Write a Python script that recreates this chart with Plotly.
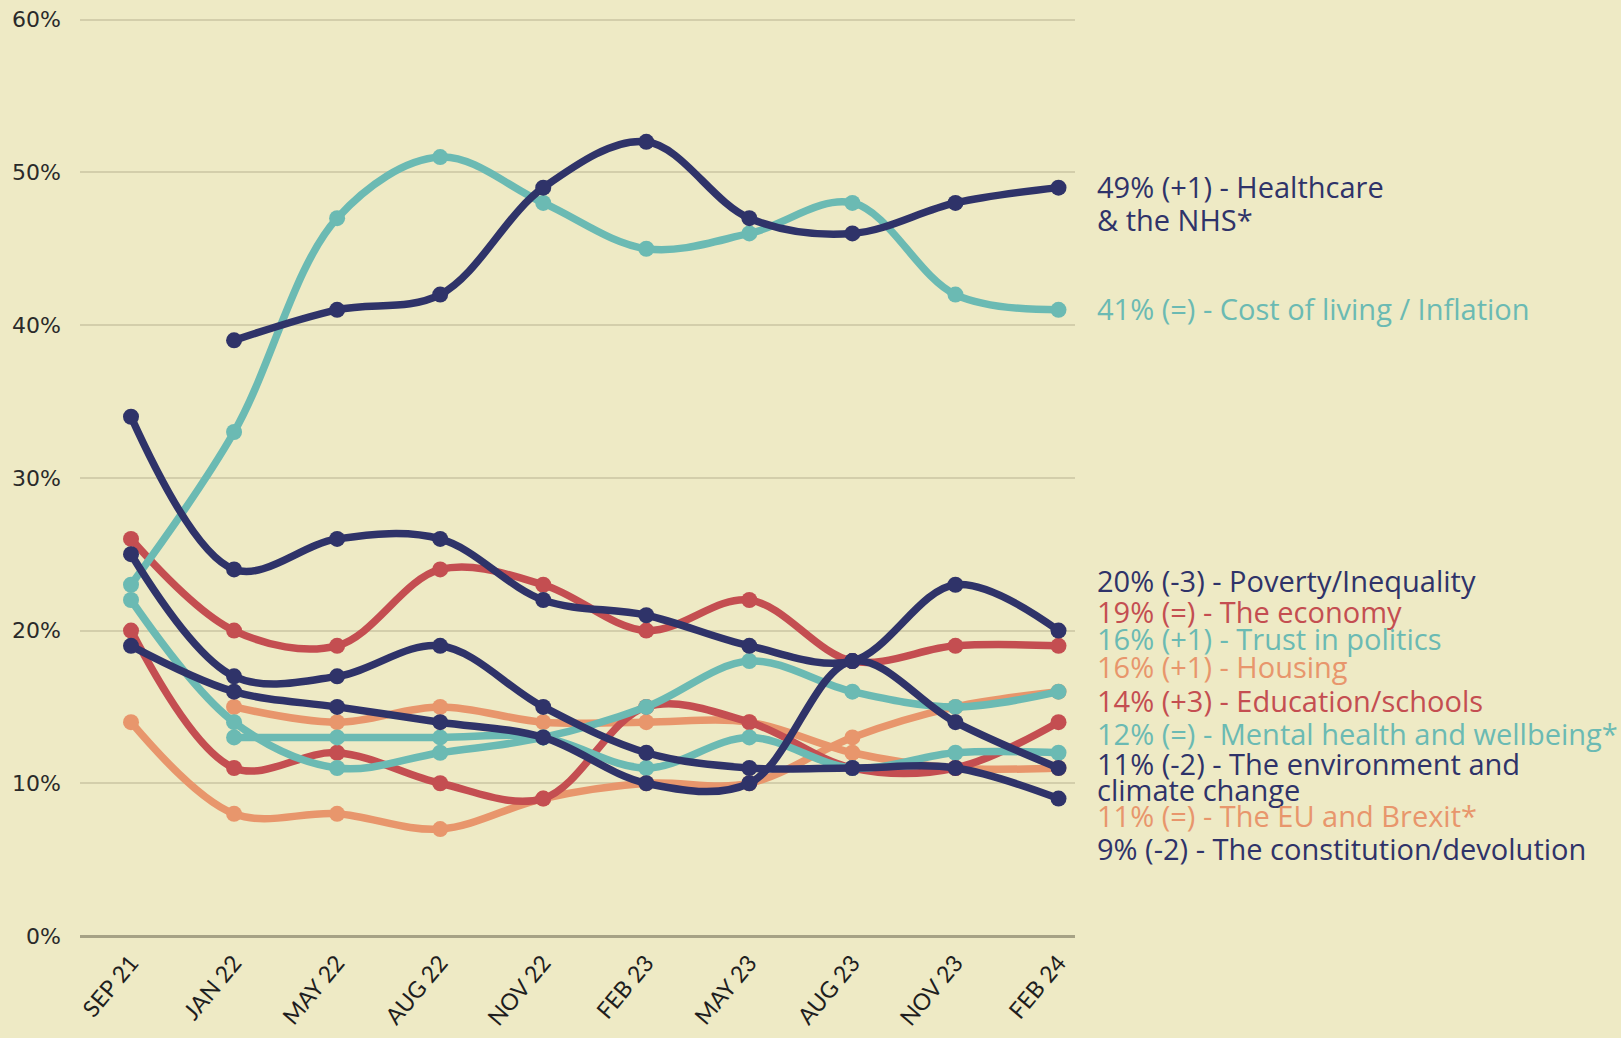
import plotly.graph_objects as go

# ---------------- data ----------------
periods = ["SEP 21", "JAN 22", "MAY 22", "AUG 22", "NOV 22",
           "FEB 23", "MAY 23", "AUG 23", "NOV 23", "FEB 24"]

healthcare   = [None, 39, 41, 42, 49, 52, 47, 46, 48, 49]
cost_living  = [23, 33, 47, 51, 48, 45, 46, 48, 42, 41]
poverty      = [34, 24, 26, 26, 22, 21, 19, 18, 23, 20]
economy      = [26, 20, 19, 24, 23, 20, 22, 18, 19, 19]
trust        = [22, 14, 11, 12, 13, 15, 18, 16, 15, 16]
housing      = [14, 8, 8, 7, 9, 10, 10, 13, 15, 16]
education    = [20, 11, 12, 10, 9, 15, 14, 11, 11, 14]
mental       = [None, 13, 13, 13, 13, 11, 13, 11, 12, 12]
environment  = [19, 16, 15, 14, 13, 10, 10, 18, 14, 11]
eu_brexit    = [None, 15, 14, 15, 14, 14, 14, 12, 11, 11]
constitution = [25, 17, 17, 19, 15, 12, 11, 11, 11, 9]

y_ticks = [0, 10, 20, 30, 40, 50, 60]
y_tick_labels = ["0%", "10%", "20%", "30%", "40%", "50%", "60%"]

# label texts (one entry per text line) and their vertical placement (data units)
label_lines = [
    "49% (+1) - Healthcare",
    "& the NHS*",
    "41% (=) - Cost of living / Inflation",
    "20% (-3) - Poverty/Inequality",
    "19% (=) - The economy",
    "16% (+1) - Trust in politics",
    "16% (+1) - Housing",
    "14% (+3) - Education/schools",
    "12% (=) - Mental health and wellbeing*",
    "11% (-2) - The environment and",
    "climate change",
    "11% (=) - The EU and Brexit*",
    "9% (-2) - The constitution/devolution",
]
label_pos = [49.07, 46.9, 41.08, 23.25, 21.28, 19.51, 17.62, 15.45, 13.28,
             11.32, 9.62, 7.86, 5.76]

# ---------------- styles ----------------
NAVY = "#2F3369"
TEAL = "#6BBAB3"
RED = "#C44E51"
ORANGE = "#E8966C"
BG = "#EEEAC5"

label_colors = [NAVY, NAVY, TEAL, NAVY, RED, TEAL, ORANGE, RED, TEAL,
                NAVY, NAVY, ORANGE, NAVY]

series = [
    ("Housing", housing, ORANGE),
    ("The EU and Brexit", eu_brexit, ORANGE),
    ("Education/schools", education, RED),
    ("The economy", economy, RED),
    ("Trust in politics", trust, TEAL),
    ("Mental health and wellbeing", mental, TEAL),
    ("Cost of living / Inflation", cost_living, TEAL),
    ("The environment and climate change", environment, NAVY),
    ("The constitution/devolution", constitution, NAVY),
    ("Poverty/Inequality", poverty, NAVY),
    ("Healthcare & the NHS", healthcare, NAVY),
]

fig = go.Figure()
for name, vals, col in series:
    fig.add_trace(go.Scatter(
        x=periods, y=vals, name=name, mode="lines+markers",
        line=dict(color=col, width=7.5, shape="spline", smoothing=1.0),
        marker=dict(color=col, size=16),
        showlegend=False,
        hovertemplate=name + ": %{y}%<extra></extra>",
    ))

annotations = []
for txt, yp, col in zip(label_lines, label_pos, label_colors):
    annotations.append(dict(
        text=txt, x=1.0205, xref="paper", xanchor="left",
        y=yp, yref="y", yanchor="middle",
        showarrow=False,
        font=dict(family="Open Sans, Lato, sans-serif", size=29, color=col),
    ))

fig.update_layout(
    width=1621, height=1038,
    margin=dict(l=80, r=546, t=12, b=102, pad=0, autoexpand=False),
    paper_bgcolor=BG, plot_bgcolor=BG,
    annotations=annotations,
    xaxis=dict(
        type="category", range=[-0.495, 9.16], automargin=False,
        showgrid=False, showline=False, zeroline=False, ticks="",
        tickangle=-50, ticklabelstandoff=8,
        tickfont=dict(family="Lato, Open Sans, sans-serif", size=23, color="#1E1E1E"),
    ),
    yaxis=dict(
        range=[0, 60.5], tickvals=y_ticks, ticktext=y_tick_labels, automargin=False,
        showgrid=True, gridcolor="#D3CEAB", gridwidth=1.5,
        zeroline=True, zerolinecolor="#A6A285", zerolinewidth=2.5,
        showline=False, ticks="",
        ticklabelstandoff=18,
        tickfont=dict(family="DejaVu Sans, sans-serif", size=22, color="#2A2A2A"),
    ),
)

fig.write_html("out.html",
               config={"displayModeBar": False},
               post_script="document.body.style.margin='0';document.body.style.overflow='hidden';")
